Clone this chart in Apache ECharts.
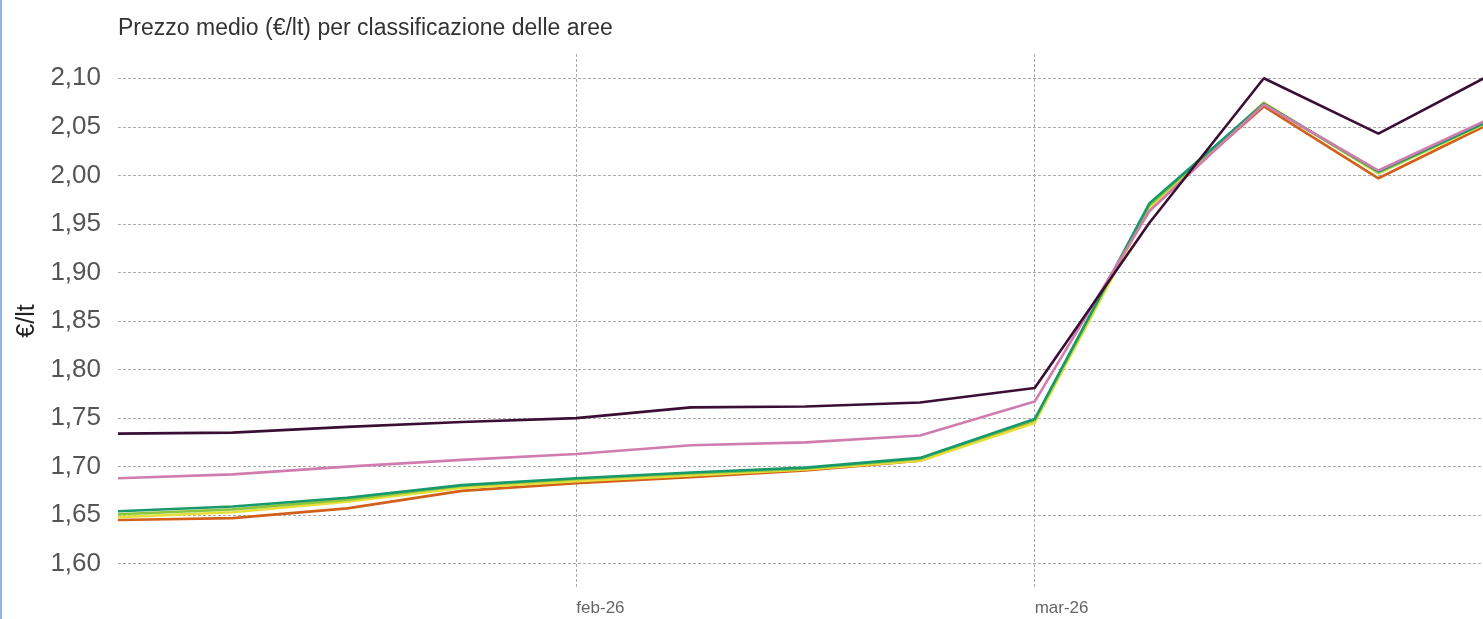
<!DOCTYPE html>
<html>
<head>
<meta charset="utf-8">
<script src="https://cdn.jsdelivr.net/npm/echarts@6/dist/echarts.min.js"></script>
<style>
  html,body{margin:0;padding:0;background:#fff;overflow:hidden;}
  #chart{width:1493px;height:619px;}
  #edge{position:absolute;left:0;top:0;width:2px;height:619px;background:#8fb3e6;}
</style>
</head>
<body>
<div id="chart"></div>
<div id="edge"></div>
<script>
// settimane (dom) da inizio gennaio a fine marzo 2026
const weeks = ['2026-01-04','2026-01-11','2026-01-18','2026-01-25','2026-02-01','2026-02-08','2026-02-15',
  '2026-02-22','2026-03-01','2026-03-08','2026-03-15','2026-03-22','2026-03-29'];
const monthLabels = {'2026-02-01':'feb-26','2026-03-01':'mar-26'};
const yTicks = [1.60,1.65,1.70,1.75,1.80,1.85,1.90,1.95,2.00,2.05,2.10];

const autostrade   = [1.734,1.735,1.741,1.746,1.750,1.761,1.762,1.766,1.781,1.951,2.100,2.043,2.105];
const poli         = [1.688,1.692,1.700,1.707,1.713,1.722,1.725,1.732,1.767,1.963,2.073,2.005,2.060];
const cintura      = [1.654,1.659,1.668,1.681,1.688,1.694,1.699,1.709,1.749,1.971,2.074,2.004,2.058];
const intermedi    = [1.651,1.656,1.666,1.680,1.687,1.693,1.698,1.708,1.748,1.969,2.074,2.003,2.058];
const periferici   = [1.648,1.653,1.664,1.678,1.685,1.691,1.697,1.706,1.745,1.966,2.075,2.002,2.057];
const ultraperif   = [1.645,1.647,1.657,1.675,1.683,1.689,1.696,1.706,1.747,1.967,2.071,1.997,2.055];

const seriesDefs = [
  {name:'Ultraperiferici', data:ultraperif, color:'#d2601a'},
  {name:'Periferici', data:periferici, color:'#e6df3a'},
  {name:'Intermedi', data:intermedi, color:'#8cc63f'},
  {name:'Cintura', data:cintura, color:'#17996b'},
  {name:'Poli', data:poli, color:'#d07cae'},
  {name:'Autostrade', data:autostrade, color:'#3b0f35'}
];

const chart = echarts.init(document.getElementById('chart'));
const gridLine = {show:true, lineStyle:{color:'#aaa', type:[3,2], width:1}};
chart.setOption({
  animation:false,
  title:{text:'Prezzo medio (€/lt) per classificazione delle aree', left:113, top:12,
    textStyle:{fontFamily:'Liberation Sans', fontSize:23, fontWeight:'normal', color:'#333'}},
  grid:{left:118, right:0, top:54, bottom:31},
  xAxis:{type:'category', data:weeks, boundaryGap:false,
    axisLine:{show:false}, axisTick:{show:false},
    axisLabel:{interval:(i,v)=>!!monthLabels[v], formatter:v=>monthLabels[v]||'', align:'left', margin:12,
      fontFamily:'Liberation Sans', fontSize:17, color:'#666'},
    splitLine:Object.assign({interval:(i,v)=>!!monthLabels[v]}, gridLine)},
  yAxis:{type:'value', min:1.575, max:2.125, name:'€/lt', nameLocation:'middle', nameGap:75,
    nameTextStyle:{fontFamily:'Liberation Sans', fontSize:25, color:'#222'},
    axisLine:{show:false}, axisTick:{show:false, customValues:yTicks},
    axisLabel:{customValues:yTicks, margin:17, formatter:v=>v.toFixed(2).replace('.',','),
      fontFamily:'Liberation Sans', fontSize:26, color:'#555'},
    splitLine:gridLine},
  series:seriesDefs.map(s=>({name:s.name, type:'line', data:s.data, showSymbol:false,
    lineStyle:{color:s.color, width:2.6}, itemStyle:{color:s.color}}))
});
</script>
</body>
</html>
